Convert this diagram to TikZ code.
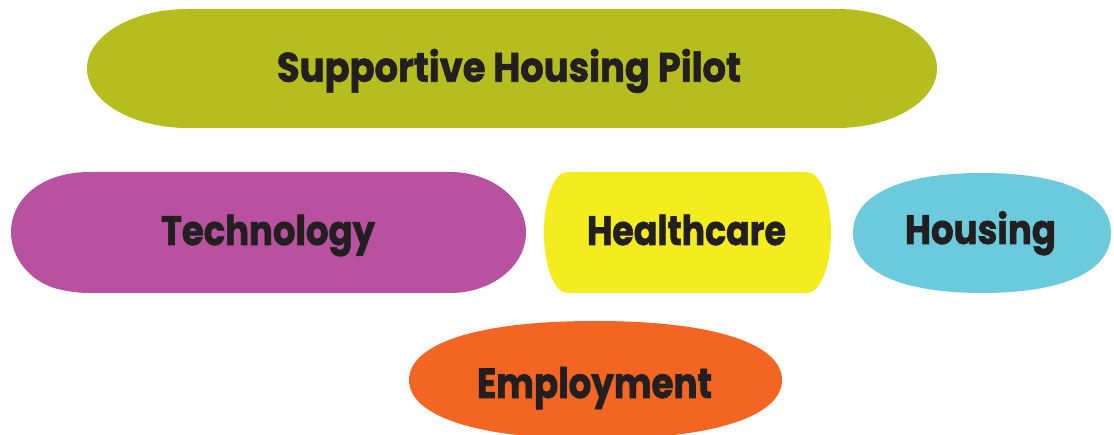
\documentclass[tikz,border=0pt]{standalone}
\usepackage{fontspec}
\usepackage{graphicx}
\setmainfont{Poppins}[BoldFeatures={FakeBold=1.6}]
\definecolor{cgreen}{HTML}{B5BE1E}
\definecolor{cmag}{HTML}{B8519F}
\definecolor{cyel}{HTML}{F3EC1E}
\definecolor{ccyan}{HTML}{6BCBDC}
\definecolor{corange}{HTML}{F26522}
\definecolor{ctext}{HTML}{231F20}
\newlength\fwlen
\newcommand\fitw[2]{\settowidth\fwlen{#2}\pgfmathsetmacro\fwfac{#1/\fwlen}\scalebox{\fwfac}[1]{#2}}
\tikzset{
  blob/.style={draw=none},
  lab/.style={anchor=base, inner sep=0pt, text=ctext, font=\fontsize{41}{41}\selectfont\bfseries}
}
\begin{document}
\begin{tikzpicture}[x=1pt,y=1pt]
\useasboundingbox (0,0) rectangle (1114,-435);
\fill[white] (0,0) rectangle (1114,-435);
% Supportive Housing Pilot
\fill[cgreen,blob] (188,-9) -- (837,-9)
  arc[start angle=90,end angle=-90,x radius=100,y radius=59.5]
  -- (188,-128)
  arc[start angle=270,end angle=90,x radius=101,y radius=59.5] -- cycle;
% Technology
\fill[cmag,blob] (90,-172) -- (450,-172)
  arc[start angle=90,end angle=-90,x radius=76,y radius=60.5]
  -- (90,-293)
  .. controls (80,-293) and (72,-292) .. (62,-290)
  .. controls (35,-285) and (11,-262) .. (11,-232)
  .. controls (11,-200) and (40,-172) .. (90,-172) -- cycle;
% Healthcare
\fill[cyel,blob] (567,-172) -- (807,-172)
  arc[start angle=90,end angle=-90,x radius=24,y radius=60.5]
  -- (567,-293)
  arc[start angle=270,end angle=90,x radius=23,y radius=60.5] -- cycle;
% Housing
\fill[ccyan,blob] (853,-233)
  .. controls (853,-195) and (900,-173) .. (982,-173)
  .. controls (1064,-173) and (1111,-195) .. (1111,-233)
  .. controls (1111,-271) and (1064,-293) .. (982,-293)
  .. controls (900,-293) and (853,-271) .. (853,-233) -- cycle;
% Employment
\fill[corange,blob] (409,-380)
  .. controls (409,-346) and (470,-321) .. (595.5,-321)
  .. controls (721,-321) and (782,-346) .. (782,-380)
  .. controls (782,-414) and (721,-439) .. (595.5,-439)
  .. controls (470,-439) and (409,-414) .. (409,-380) -- cycle;
% labels
\node[lab] (pilot) at (509,-81.7) {\fitw{464pt}{Supportive Housing Pilot}};
\node[lab] (tech) at (268,-245) {\fitw{214pt}{Technology}};
\node[lab] (health) at (686.5,-245) {\fitw{199pt}{Healthcare}};
\node[lab] (housing) at (980.5,-244) {\fitw{151pt}{Housing}};
\node[lab, font=\fontsize{42}{42}\selectfont\bfseries] (employ) at (594.5,-398) {\fitw{235pt}{Employment}};
\end{tikzpicture}
\end{document}
